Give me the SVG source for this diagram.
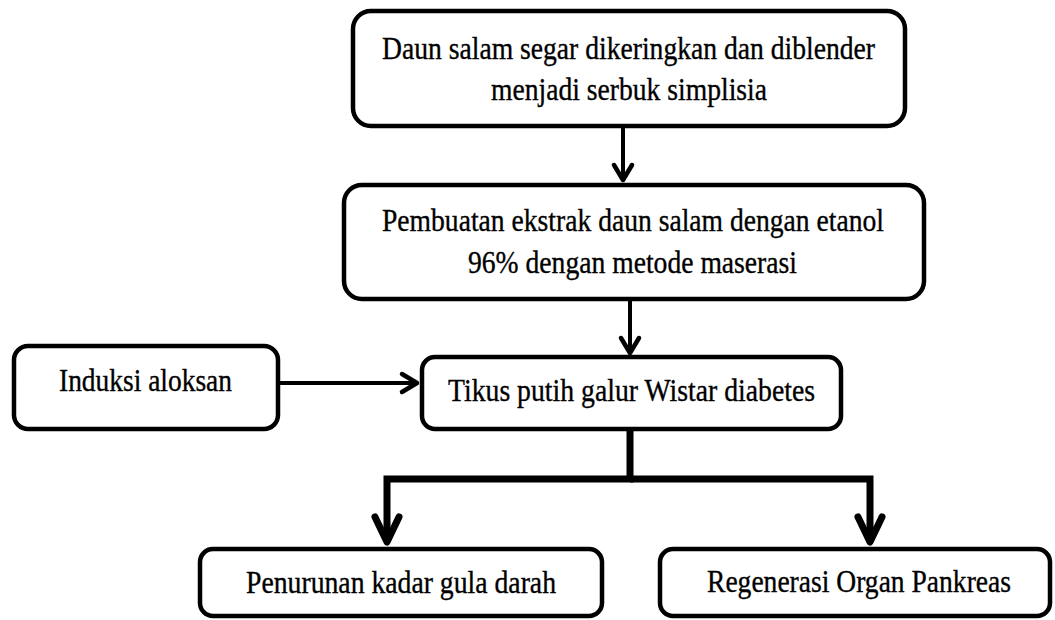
<svg xmlns="http://www.w3.org/2000/svg" width="1055" height="620" viewBox="0 0 1055 620">
<style>
.box{fill:#fff;stroke:#000;stroke-width:4.5}
.t{font-family:"Liberation Serif","Times New Roman",serif;font-size:32px;fill:#000;stroke:#000;stroke-width:0.35}
.thin{stroke:#000;stroke-width:4;fill:none}
.thick{stroke:#000;stroke-width:7;fill:none;stroke-linejoin:miter}
</style>
<defs>
<marker id="ahThin" markerUnits="userSpaceOnUse" markerWidth="40" markerHeight="40" refX="0" refY="0" orient="auto" overflow="visible">
<path d="M-15,-9 L0,0 L-15,9" fill="none" stroke="#000" stroke-width="4.5" stroke-linecap="round" stroke-linejoin="round"/>
</marker>
<marker id="ahThick" markerUnits="userSpaceOnUse" markerWidth="60" markerHeight="60" refX="0" refY="0" orient="auto" overflow="visible">
<path d="M-25,-12 L0,0 L-25,12" fill="none" stroke="#000" stroke-width="7" stroke-linecap="round" stroke-linejoin="round"/>
</marker>
</defs>
<g id="connectors">
<line class="thin" x1="623" y1="128" x2="623" y2="180" marker-end="url(#ahThin)"/>
<line class="thin" x1="630" y1="301" x2="630" y2="353" marker-end="url(#ahThin)"/>
<line class="thin" x1="280" y1="383" x2="417" y2="383" marker-end="url(#ahThin)"/>
<path class="thick" d="M630,431 V479 H387 V542" marker-end="url(#ahThick)"/>
<path class="thick" d="M630,479 H870 V542" marker-end="url(#ahThick)"/>
</g>
<g id="node-daun">
<rect class="box" x="353" y="11" width="552" height="115" rx="18"/>
<text class="t" x="382" y="59" textLength="493" lengthAdjust="spacingAndGlyphs">Daun salam segar dikeringkan dan diblender</text>
<text class="t" x="491" y="100" textLength="276" lengthAdjust="spacingAndGlyphs">menjadi serbuk simplisia</text>
</g>
<g id="node-ekstrak">
<rect class="box" x="344" y="185" width="580" height="114" rx="18"/>
<text class="t" x="382" y="231" textLength="502" lengthAdjust="spacingAndGlyphs">Pembuatan ekstrak daun salam dengan etanol</text>
<text class="t" x="468" y="273" textLength="329" lengthAdjust="spacingAndGlyphs">96% dengan metode maserasi</text>
</g>
<g id="node-induksi">
<rect class="box" x="14" y="346" width="264" height="83" rx="14"/>
<text class="t" x="59" y="391" textLength="173" lengthAdjust="spacingAndGlyphs">Induksi aloksan</text>
</g>
<g id="node-tikus">
<rect class="box" x="422" y="357" width="419" height="72" rx="13"/>
<text class="t" x="448" y="401" textLength="367" lengthAdjust="spacingAndGlyphs">Tikus putih galur Wistar diabetes</text>
</g>
<g id="node-penurunan">
<rect class="box" x="200" y="549" width="402" height="67" rx="13"/>
<text class="t" x="246" y="593" textLength="310" lengthAdjust="spacingAndGlyphs">Penurunan kadar gula darah</text>
</g>
<g id="node-regenerasi">
<rect class="box" x="660" y="549" width="390" height="67" rx="13"/>
<text class="t" x="707" y="592" textLength="304" lengthAdjust="spacingAndGlyphs">Regenerasi Organ Pankreas</text>
</g>
</svg>
